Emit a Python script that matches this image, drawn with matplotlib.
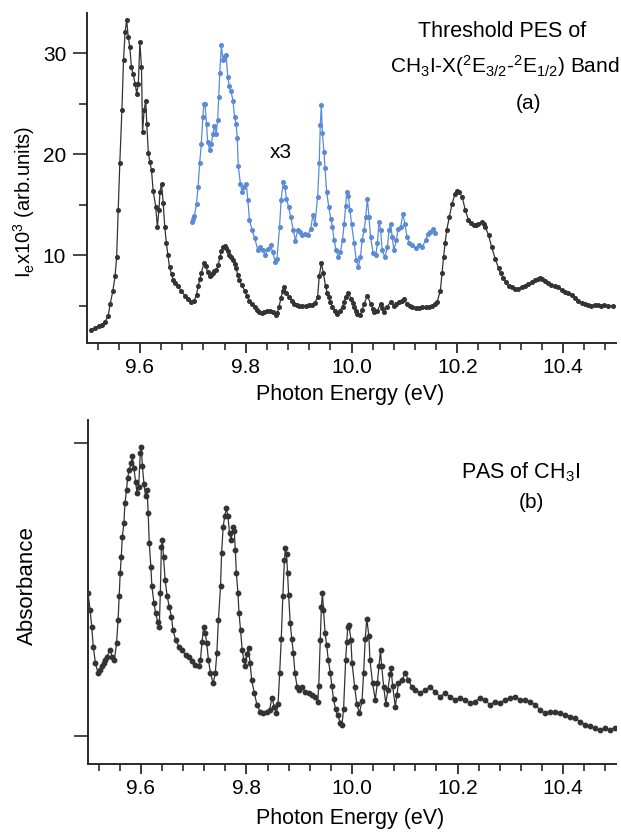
import matplotlib
matplotlib.use("Agg")
import matplotlib.pyplot as plt
from matplotlib.ticker import MultipleLocator, FixedLocator

plt.rcParams['font.family'] = ['Liberation Sans', 'DejaVu Sans']
plt.rcParams['mathtext.fontset'] = 'custom'
plt.rcParams['mathtext.rm'] = 'Liberation Sans'
plt.rcParams['mathtext.it'] = 'Liberation Sans'
plt.rcParams['mathtext.default'] = 'regular'

# ---------------- data: (a) threshold PES (black) ----------------
pes_E = [9.508, 9.515, 9.522, 9.528, 9.534, 9.540, 9.544, 9.549, 9.553, 9.556, 9.559, 9.562, 9.566, 9.569,
         9.572, 9.575, 9.578, 9.581, 9.584, 9.587, 9.591, 9.594, 9.597, 9.600, 9.603, 9.605, 9.608, 9.611,
         9.613, 9.616, 9.619, 9.622, 9.625, 9.630, 9.633, 9.636, 9.638, 9.641, 9.644, 9.647, 9.650, 9.653,
         9.656, 9.660, 9.663, 9.667, 9.672, 9.678, 9.685, 9.691, 9.697, 9.703, 9.707, 9.710, 9.713, 9.716,
         9.721, 9.725, 9.728, 9.732, 9.735, 9.738, 9.741, 9.744, 9.748, 9.751, 9.754, 9.757, 9.760, 9.763,
         9.766, 9.769, 9.772, 9.776, 9.779, 9.782, 9.785, 9.788, 9.793, 9.798, 9.802, 9.807, 9.812, 9.817,
         9.821, 9.826, 9.830, 9.835, 9.840, 9.845, 9.851, 9.857, 9.860, 9.863, 9.867, 9.870, 9.873, 9.877,
         9.882, 9.887, 9.892, 9.897, 9.901, 9.907, 9.914, 9.920, 9.926, 9.931, 9.936, 9.939, 9.943, 9.947,
         9.951, 9.954, 9.957, 9.960, 9.964, 9.968, 9.973, 9.978, 9.983, 9.986, 9.989, 9.994, 9.999, 10.002,
         10.005, 10.008, 10.011, 10.017, 10.020, 10.024, 10.030, 10.036, 10.040, 10.043, 10.049, 10.055,
         10.058, 10.061, 10.068, 10.074, 10.080, 10.085, 10.090, 10.095, 10.099, 10.105, 10.110, 10.115,
         10.121, 10.127, 10.134, 10.140, 10.146, 10.152, 10.157, 10.162, 10.168, 10.171, 10.174, 10.177,
         10.180, 10.185, 10.190, 10.196, 10.200, 10.203, 10.209, 10.215, 10.221, 10.226, 10.231, 10.236,
         10.240, 10.246, 10.250, 10.253, 10.259, 10.265, 10.272, 10.278, 10.282, 10.287, 10.292, 10.297,
         10.303, 10.309, 10.315, 10.322, 10.328, 10.334, 10.341, 10.347, 10.352, 10.356, 10.361, 10.366,
         10.372, 10.378, 10.385, 10.391, 10.397, 10.403, 10.410, 10.416, 10.422, 10.428, 10.435, 10.441,
         10.447, 10.453, 10.460, 10.466, 10.472, 10.478, 10.485, 10.494]
pes_I = [2.6, 2.8, 3.0, 3.1, 3.4, 4.0, 5.2, 6.5, 7.9, 9.8, 14.5, 19.1, 24.4, 29.3,
         32.1, 33.3, 31.6, 30.6, 28.6, 28.0, 27.0, 26.0, 27.0, 31.1, 28.6, 22.2, 24.4, 25.3,
         23.0, 20.1, 19.2, 18.4, 16.4, 14.8, 12.8, 14.5, 16.3, 17.1, 15.2, 12.8, 11.2, 10.0,
         8.8, 8.1, 7.5, 7.2, 6.9, 6.5, 6.0, 5.7, 5.4, 5.5, 6.1, 6.9, 7.6, 8.2,
         9.2, 8.9, 8.3, 7.9, 8.0, 8.2, 8.4, 8.5, 9.0, 9.8, 10.4, 10.8, 10.9, 10.7,
         10.4, 10.0, 9.8, 9.5, 9.1, 8.7, 8.0, 7.5, 7.0, 6.5, 6.0, 5.5, 5.2, 4.9,
         4.6, 4.4, 4.3, 4.4, 4.5, 4.5, 4.4, 4.1, 4.3, 4.9, 5.8, 6.5, 6.8, 6.3,
         5.9, 5.5, 5.2, 5.1, 5.0, 5.0, 5.0, 5.1, 5.1, 5.3, 5.9, 7.9, 9.2, 8.2,
         6.9, 6.3, 5.9, 5.4, 4.9, 4.5, 4.2, 4.5, 4.9, 5.4, 5.9, 6.3, 5.7, 5.3,
         4.9, 4.5, 4.2, 4.1, 4.6, 5.2, 6.0, 5.2, 4.7, 4.4, 4.5, 5.2,
         4.8, 4.4, 4.9, 5.4, 5.0, 5.2, 5.4, 5.5, 5.7, 5.2, 5.0, 4.9,
         4.8, 4.8, 4.9, 4.9, 4.9, 5.0, 5.2, 5.4, 6.5, 8.2, 9.8, 11.2,
         12.5, 13.8, 15.1, 16.1, 16.4, 16.3, 15.8, 14.5, 13.5, 13.2, 13.0, 13.0,
         13.1, 13.3, 13.1, 12.8, 12.0, 10.8, 9.6, 8.7, 8.2, 7.7, 7.3, 6.9,
         6.8, 6.7, 6.7, 6.8, 6.9, 7.1, 7.3, 7.5, 7.6, 7.7, 7.6, 7.4,
         7.2, 7.0, 6.9, 6.8, 6.6, 6.4, 6.3, 6.1, 5.8, 5.5, 5.3, 5.2,
         5.1, 5.0, 5.1, 5.1, 5.0, 5.1, 5.0, 4.95]

# ---------------- data: (a) x3 magnified (blue) ----------------
x3_E = [9.698, 9.701, 9.703, 9.707, 9.710, 9.713, 9.716, 9.719, 9.721, 9.723, 9.726, 9.728, 9.732, 9.735,
        9.738, 9.741, 9.744, 9.747, 9.749, 9.751, 9.754, 9.757, 9.760, 9.763, 9.766, 9.769, 9.772, 9.776,
        9.779, 9.782, 9.784, 9.786, 9.790, 9.793, 9.797, 9.801, 9.804, 9.807, 9.812, 9.817, 9.823, 9.827,
        9.832, 9.837, 9.842, 9.847, 9.851, 9.856, 9.859, 9.864, 9.867, 9.871, 9.874, 9.877, 9.881, 9.885,
        9.890, 9.894, 9.898, 9.902, 9.907, 9.912, 9.917, 9.923, 9.927, 9.931, 9.936, 9.939, 9.941, 9.943,
        9.945, 9.948, 9.950, 9.953, 9.957, 9.961, 9.964, 9.967, 9.971, 9.975, 9.979, 9.983, 9.986, 9.989,
        9.991, 9.994, 9.997, 10.000, 10.005, 10.009, 10.013, 10.017, 10.020, 10.024, 10.027, 10.030,
        10.033, 10.036, 10.041, 10.046, 10.049, 10.052, 10.055, 10.058, 10.063, 10.068, 10.071, 10.074,
        10.077, 10.080, 10.085, 10.088, 10.093, 10.097, 10.101, 10.105, 10.109, 10.115, 10.121, 10.127,
        10.134, 10.140, 10.145, 10.149, 10.154, 10.158]
x3_I = [13.3, 13.6, 13.9, 15.1, 16.8, 19.1, 21.0, 23.7, 25.0, 25.0, 23.0, 21.2, 20.4, 21.0,
        22.0, 22.8, 22.0, 23.4, 25.7, 28.1, 30.8, 29.3, 29.7, 29.8, 27.7, 26.8, 26.3, 25.3,
        23.7, 23.0, 21.6, 18.8, 17.1, 16.3, 16.8, 17.1, 15.5, 13.5, 12.5, 11.7, 10.5, 10.8,
        10.5, 10.0, 10.6, 11.0, 10.3, 9.3, 9.6, 12.8, 15.5, 17.3, 16.8, 15.6, 14.8, 13.8,
        12.5, 11.4, 12.5, 12.3, 12.0, 12.1, 12.0, 12.6, 14.0, 13.1, 15.8, 19.1, 22.9, 24.9,
        22.1, 20.2, 18.6, 16.3, 14.8, 13.6, 12.8, 11.5, 10.5, 9.8, 10.3, 11.5, 13.1, 14.9,
        16.3, 15.9, 14.5, 13.1, 11.2, 9.5, 8.8, 9.8, 11.5, 12.5, 13.8, 15.6,
        13.8, 11.8, 10.2, 10.0, 11.2, 13.3, 12.5, 10.5, 9.8, 10.8, 12.5, 13.1,
        11.8, 10.5, 11.5, 12.6, 12.8, 14.1, 13.1, 11.8, 11.2, 11.0, 10.7, 11.0,
        10.8, 11.5, 12.1, 12.3, 12.6, 12.2]

# ---------------- data: (b) PAS absorbance ----------------
pas_E = [9.500, 9.504, 9.507, 9.510, 9.514, 9.519, 9.523, 9.527, 9.530, 9.533, 9.536, 9.541, 9.546, 9.550,
         9.554, 9.557, 9.559, 9.561, 9.563, 9.565, 9.568, 9.570, 9.573, 9.575, 9.578, 9.582, 9.584, 9.587,
         9.590, 9.593, 9.596, 9.599, 9.601, 9.603, 9.606, 9.609, 9.612, 9.614, 9.616, 9.619, 9.621, 9.625,
         9.628, 9.632, 9.635, 9.637, 9.639, 9.641, 9.643, 9.646, 9.650, 9.654, 9.658, 9.661, 9.666, 9.672,
         9.678, 9.685, 9.691, 9.697, 9.703, 9.710, 9.713, 9.716, 9.719, 9.722, 9.725, 9.728, 9.732, 9.737,
         9.741, 9.744, 9.747, 9.751, 9.753, 9.756, 9.759, 9.762, 9.765, 9.768, 9.771, 9.775, 9.777, 9.779,
         9.781, 9.784, 9.786, 9.789, 9.792, 9.795, 9.798, 9.801, 9.804, 9.807, 9.810, 9.815, 9.820, 9.826,
         9.832, 9.839, 9.844, 9.848, 9.853, 9.857, 9.860, 9.863, 9.866, 9.869, 9.872, 9.874, 9.876, 9.878,
         9.880, 9.883, 9.886, 9.889, 9.892, 9.896, 9.900, 9.905, 9.911, 9.918, 9.924, 9.930, 9.935, 9.937,
         9.940, 9.942, 9.944, 9.946, 9.949, 9.952, 9.955, 9.959, 9.962, 9.965, 9.969, 9.973, 9.978, 9.981,
         9.984, 9.988, 9.990, 9.992, 9.994, 9.998, 10.000, 10.005, 10.009, 10.014, 10.019, 10.022, 10.025,
         10.028, 10.032, 10.034, 10.039, 10.044, 10.048, 10.051, 10.054, 10.056, 10.060, 10.064, 10.068,
         10.072, 10.074, 10.077, 10.082, 10.085, 10.088, 10.094, 10.101, 10.107, 10.113, 10.120, 10.129,
         10.139, 10.148, 10.157, 10.167, 10.176, 10.186, 10.195, 10.205, 10.214, 10.224, 10.233, 10.242,
         10.252, 10.261, 10.271, 10.280, 10.290, 10.299, 10.309, 10.318, 10.328, 10.337, 10.347, 10.356,
         10.365, 10.375, 10.384, 10.394, 10.403, 10.413, 10.422, 10.432, 10.441, 10.451, 10.460, 10.469,
         10.479, 10.488, 10.498]
pas_A = [0.487, 0.430, 0.373, 0.305, 0.248, 0.214, 0.225, 0.238, 0.248, 0.260, 0.270, 0.293, 0.270, 0.259,
         0.316, 0.396, 0.476, 0.555, 0.612, 0.680, 0.726, 0.794, 0.840, 0.880, 0.908, 0.931, 0.954, 0.914,
         0.868, 0.828, 0.851, 0.965, 0.987, 0.920, 0.860, 0.817, 0.840, 0.760, 0.658, 0.578, 0.510, 0.453,
         0.419, 0.390, 0.373, 0.487, 0.646, 0.669, 0.612, 0.533, 0.476, 0.440, 0.407, 0.360, 0.328, 0.305,
         0.293, 0.276, 0.270, 0.254, 0.242, 0.237, 0.260, 0.322, 0.373, 0.350, 0.316, 0.260, 0.214, 0.180,
         0.214, 0.282, 0.396, 0.510, 0.623, 0.714, 0.750, 0.777, 0.750, 0.692, 0.669, 0.714, 0.700, 0.635,
         0.555, 0.487, 0.419, 0.360, 0.293, 0.260, 0.237, 0.280, 0.299, 0.248, 0.191, 0.146, 0.106, 0.083,
         0.077, 0.083, 0.088, 0.129, 0.100, 0.077, 0.110, 0.214, 0.330, 0.476, 0.600, 0.641, 0.620, 0.555,
         0.480, 0.385, 0.330, 0.282, 0.214, 0.168, 0.157, 0.168, 0.151, 0.146, 0.140, 0.134, 0.117, 0.170,
         0.328, 0.440, 0.487, 0.430, 0.350, 0.310, 0.260, 0.214, 0.170, 0.125, 0.090, 0.070, 0.045, 0.038,
         0.090, 0.259, 0.320, 0.373, 0.380, 0.328, 0.250, 0.168, 0.110, 0.077, 0.120, 0.214, 0.330,
         0.400, 0.340, 0.259, 0.180, 0.123, 0.180, 0.237, 0.293, 0.240, 0.168, 0.110, 0.157,
         0.210, 0.231, 0.170, 0.100, 0.140, 0.180, 0.190, 0.214, 0.190, 0.168, 0.157, 0.146,
         0.157, 0.168, 0.150, 0.134, 0.146, 0.134, 0.123, 0.129, 0.123, 0.111, 0.117, 0.129,
         0.123, 0.106, 0.117, 0.111, 0.123, 0.129, 0.134, 0.123, 0.123, 0.117, 0.106, 0.089,
         0.077, 0.083, 0.083, 0.077, 0.072, 0.066, 0.060, 0.049, 0.038, 0.032, 0.026, 0.020,
         0.026, 0.020, 0.026]

xticks_major = [9.6, 9.8, 10.0, 10.2, 10.4]
xtick_labels = ["9.6", "9.8", "10.0", "10.2", "10.4"]
pes_yticks = [10, 20, 30]

# ---------------- figure ----------------
W, H = 621, 832
fig = plt.figure(figsize=(W / 100, H / 100), dpi=100)

def frac(l, t, r, b):
    return [l / W, 1 - b / H, (r - l) / W, (b - t) / H]

ax1 = fig.add_axes(frac(87, 13, 616, 343))
ax2 = fig.add_axes(frac(88, 420, 616, 764))

spine_c = '#2a2a2a'
for ax in (ax1, ax2):
    for s in ('top', 'right'):
        ax.spines[s].set_visible(False)
    for s in ('left', 'bottom'):
        ax.spines[s].set_color(spine_c)
        ax.spines[s].set_linewidth(1.4)
    ax.set_xlim(9.5, 10.5)
    ax.xaxis.set_major_locator(FixedLocator(xticks_major))
    ax.set_xticklabels(xtick_labels)
    ax.xaxis.set_minor_locator(MultipleLocator(0.04))
    ax.tick_params(axis='x', which='major', direction='out', length=7, width=1.3,
                   color=spine_c, labelsize=15, pad=4)
    ax.tick_params(axis='x', which='minor', direction='out', length=5, width=1.2, color=spine_c)
    ax.tick_params(axis='y', which='major', direction='out', length=10, width=1.2,
                   color=spine_c, labelsize=15, pad=5)
    ax.tick_params(axis='y', which='minor', direction='out', length=6, width=1.2, color=spine_c)
    ax.set_xlabel("Photon Energy (eV)", fontsize=15.5)
    ax.set_facecolor('none')

# (a)
ax1.plot(x3_E, x3_I, '-o', color='#5b8ad6', lw=0.9, ms=2.6, mec='#5b8ad6', zorder=2)
ax1.plot(pes_E, pes_I, '-o', color='#333333', lw=0.9, ms=2.6, mec='#333333', zorder=3)
ax1.set_ylim(1.3, 34)
ax1.yaxis.set_major_locator(FixedLocator(pes_yticks))
ax1.yaxis.set_minor_locator(FixedLocator([5, 15, 25]))
ax1.set_ylabel("I$_e$x10$^3$ (arb.units)", fontsize=14.5)
ax1.yaxis.set_label_coords(-0.095, 0.427)
ax1.xaxis.set_label_coords(0.497, -0.125)
ax1.text(10.285, 32.2, "Threshold PES of", fontsize=15.5, ha='center', va='center')
ax1.text(10.29, 28.7, "CH$_3$I-X($^2$E$_{3/2}$-$^2$E$_{1/2}$) Band", fontsize=15,
         ha='center', va='center')
ax1.text(10.334, 25.0, "(a)", fontsize=15, ha='center', va='center')
ax1.text(9.866, 20.2, "x3", fontsize=15, ha='center', va='center')

# (b)
ax2.plot(pas_E, pas_A, '-o', color='#333333', lw=0.9, ms=3.2, mec='#333333', zorder=3)
ax2.set_ylim(-0.096, 1.078)
ax2.yaxis.set_major_locator(FixedLocator([0, 1]))
ax2.set_yticklabels([])
ax2.set_ylabel("Absorbance", fontsize=16)
ax2.yaxis.set_label_coords(-0.095, 0.52)
ax2.xaxis.set_label_coords(0.497, -0.128)
ax2.text(10.319, 0.901, "PAS of CH$_3$I", fontsize=15.5, ha='center', va='center')
ax2.text(10.34, 0.795, "(b)", fontsize=15, ha='center', va='center')

fig.savefig("out.png", dpi=100)
